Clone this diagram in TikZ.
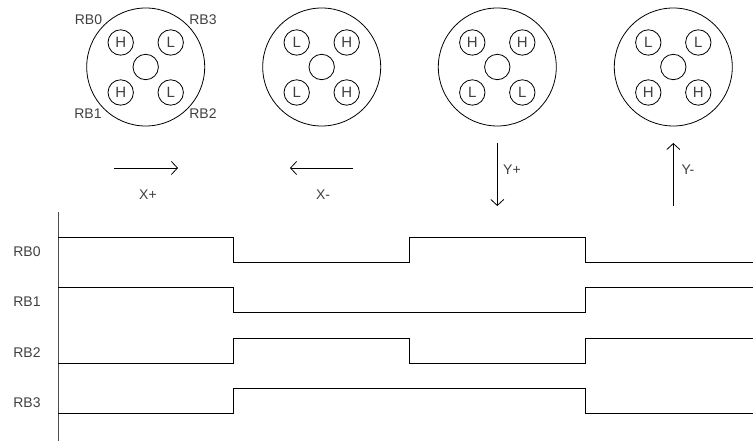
\documentclass[tikz,border=0pt]{standalone}
\usepackage{fontspec}
\setmainfont{Liberation Sans}
\usetikzlibrary{arrows.meta}
\tikzset{
  lab/.style={font=\fontsize{14}{15}\selectfont, inner sep=0pt, text=black!75},
  bigdisc/.style={circle, draw, line width=0.8pt, minimum size=118pt, inner sep=0pt},
  pin/.style={circle, draw, line width=0.8pt, minimum size=25.4pt, inner sep=0pt, font=\fontsize{15}{16}\selectfont, text=black!75},
  dirarrow/.style={line width=0.8pt, -{Straight Barb[length=6pt,width=13pt,line width=0.8pt]}},
  wave/.style={line width=0.8pt, line join=miter},
  axisline/.style={line width=0.8pt, black!70}
}
\newcommand{\discpic}[6]{%
  \node[bigdisc] (#1) at (#2,67) {};
  \node[pin] (#1c) at (#1) {};
  \node[pin] (#1a) at ([shift={(-25,-24.5)}]#1) {#3};
  \node[pin] (#1d) at ([shift={(25,-24.5)}]#1) {#4};
  \node[pin] (#1b) at ([shift={(-25,25.5)}]#1) {#5};
  \node[pin] (#1e) at ([shift={(25,25.5)}]#1) {#6};
}
\begin{document}
\begin{tikzpicture}[x=1pt,y=-1pt]
\useasboundingbox (0,0) rectangle (753,443);
\discpic{A}{145.7}{H}{L}{H}{L}
\discpic{B}{321.7}{L}{H}{L}{H}
\discpic{C}{497.3}{H}{H}{L}{L}
\discpic{D}{673.3}{L}{L}{H}{H}
\node[lab] (t0) at (88.5,19.5) {RB0};
\node[lab] (t3) at (203,19.5) {RB3};
\node[lab] (t1) at (88,114) {RB1};
\node[lab] (t2) at (203,114) {RB2};
% direction arrows
\coordinate (xps) at (114,168); \coordinate (xpe) at (178,168);
\coordinate (xms) at (353,168); \coordinate (xme) at (290,168);
\coordinate (yps) at (497.3,143); \coordinate (ype) at (497.3,206);
\coordinate (yms) at (673.3,206); \coordinate (yme) at (673.3,143);
\draw[dirarrow] (xps) -- (xpe);
\draw[dirarrow] (xms) -- (xme);
\draw[dirarrow] (yps) -- (ype);
\draw[dirarrow] (yms) -- (yme);
\node[lab] (xp) at (148,195) {X+};
\node[lab] (xm) at (323,195) {X-};
\node[lab] (yp) at (512,170) {Y+};
\node[lab] (ym) at (688,170) {Y-};
% timing diagram
\coordinate (axt) at (58,212); \coordinate (axb) at (58,441);
\draw[axisline] (axt) -- (axb);
\node[lab] (w0) at (27,252) {RB0};
\node[lab] (w1) at (27,302) {RB1};
\node[lab] (w2) at (27,353) {RB2};
\node[lab] (w3) at (27,403) {RB3};
\draw[wave] (58,237.5) -- (233.5,237.5) -- (233.5,262.5) -- (409.5,262.5) -- (409.5,237.5) -- (585.5,237.5) -- (585.5,262.5) -- (753,262.5);
\draw[wave] (58,287.5) -- (233.5,287.5) -- (233.5,312.5) -- (585.5,312.5) -- (585.5,287.5) -- (753,287.5);
\draw[wave] (58,363) -- (233.5,363) -- (233.5,338) -- (409.5,338) -- (409.5,363) -- (585.5,363) -- (585.5,338) -- (753,338);
\draw[wave] (58,413) -- (233.5,413) -- (233.5,388) -- (585.5,388) -- (585.5,413) -- (753,413);
\end{tikzpicture}
\end{document}
